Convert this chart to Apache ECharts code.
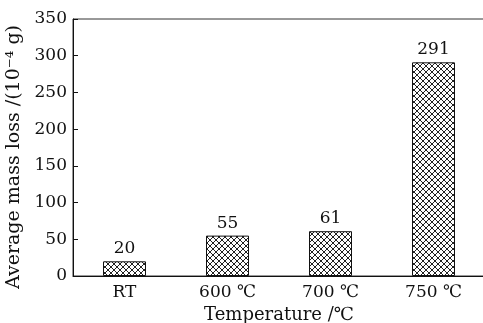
<!DOCTYPE html>
<html>
<head>
<meta charset="utf-8">
<script src="https://cdn.jsdelivr.net/npm/echarts@6/dist/echarts.min.js"></script>
<style>
  html, body { margin: 0; padding: 0; background: #fff; }
  #chart { width: 483px; height: 323px; }
</style>
</head>
<body>
<div id="chart"></div>
<script>
const categories = ['RT', '600 ℃', '700 ℃', '750 ℃'];
const massLoss = [20, 55, 61, 291];

const SERIF = '"DejaVu Serif", "Liberation Serif", serif';

// cross-hatch tile for the bars
function hatchTile() {
    const c = document.createElement('canvas');
    c.width = 6;
    c.height = 6;
    const ctx = c.getContext('2d');
    ctx.fillStyle = '#fff';
    ctx.fillRect(0, 0, 6, 6);
    ctx.strokeStyle = '#222';
    ctx.lineWidth = 1;
    ctx.beginPath();
    ctx.moveTo(0, 0); ctx.lineTo(6, 6);
    ctx.moveTo(6, 0); ctx.lineTo(0, 6);
    ctx.moveTo(-1, 5); ctx.lineTo(1, 7);
    ctx.moveTo(5, -1); ctx.lineTo(7, 1);
    ctx.stroke();
    return c;
}

const chart = echarts.init(document.getElementById('chart'));

const option = {
    backgroundColor: '#fff',
    animation: false,
    grid: {
        left: 73, top: 19, bottom: 47, right: -2,
        outerBoundsMode: 'none',
        containLabel: false,
        show: true, borderColor: '#333', borderWidth: 1
    },
    xAxis: {
        type: 'category',
        data: categories,
        name: 'Temperature /℃',
        nameLocation: 'middle',
        nameGap: 29,
        nameTextStyle: { fontFamily: SERIF, fontSize: 18, color: '#111' },
        axisLine: { lineStyle: { color: '#111', width: 1 } },
        axisTick: { show: false },
        axisLabel: { fontFamily: SERIF, fontSize: 17, color: '#111', margin: 8 }
    },
    yAxis: {
        type: 'value',
        min: 0, max: 350, interval: 50,
        name: 'Average mass loss /(10⁻⁴ g)',
        nameLocation: 'middle',
        nameGap: 48,
        nameTextStyle: { fontFamily: SERIF, fontSize: 19, color: '#111', padding: [0, 19, 0, 0] },
        axisLine: { show: true, lineStyle: { color: '#111', width: 1 } },
        axisTick: { show: true, inside: true, length: 5, lineStyle: { color: '#111' } },
        axisLabel: { fontFamily: SERIF, fontSize: 17, color: '#111', margin: 6 },
        splitLine: { show: false }
    },
    series: [{
        type: 'bar',
        data: massLoss,
        barWidth: 43,
        itemStyle: {
            color: { image: hatchTile(), repeat: 'repeat' },
            borderColor: '#111',
            borderWidth: 1
        },
        label: {
            show: true,
            position: 'top',
            distance: 4,
            fontFamily: SERIF,
            fontSize: 17,
            color: '#111'
        }
    }]
};

chart.setOption(option);
</script>
</body>
</html>
